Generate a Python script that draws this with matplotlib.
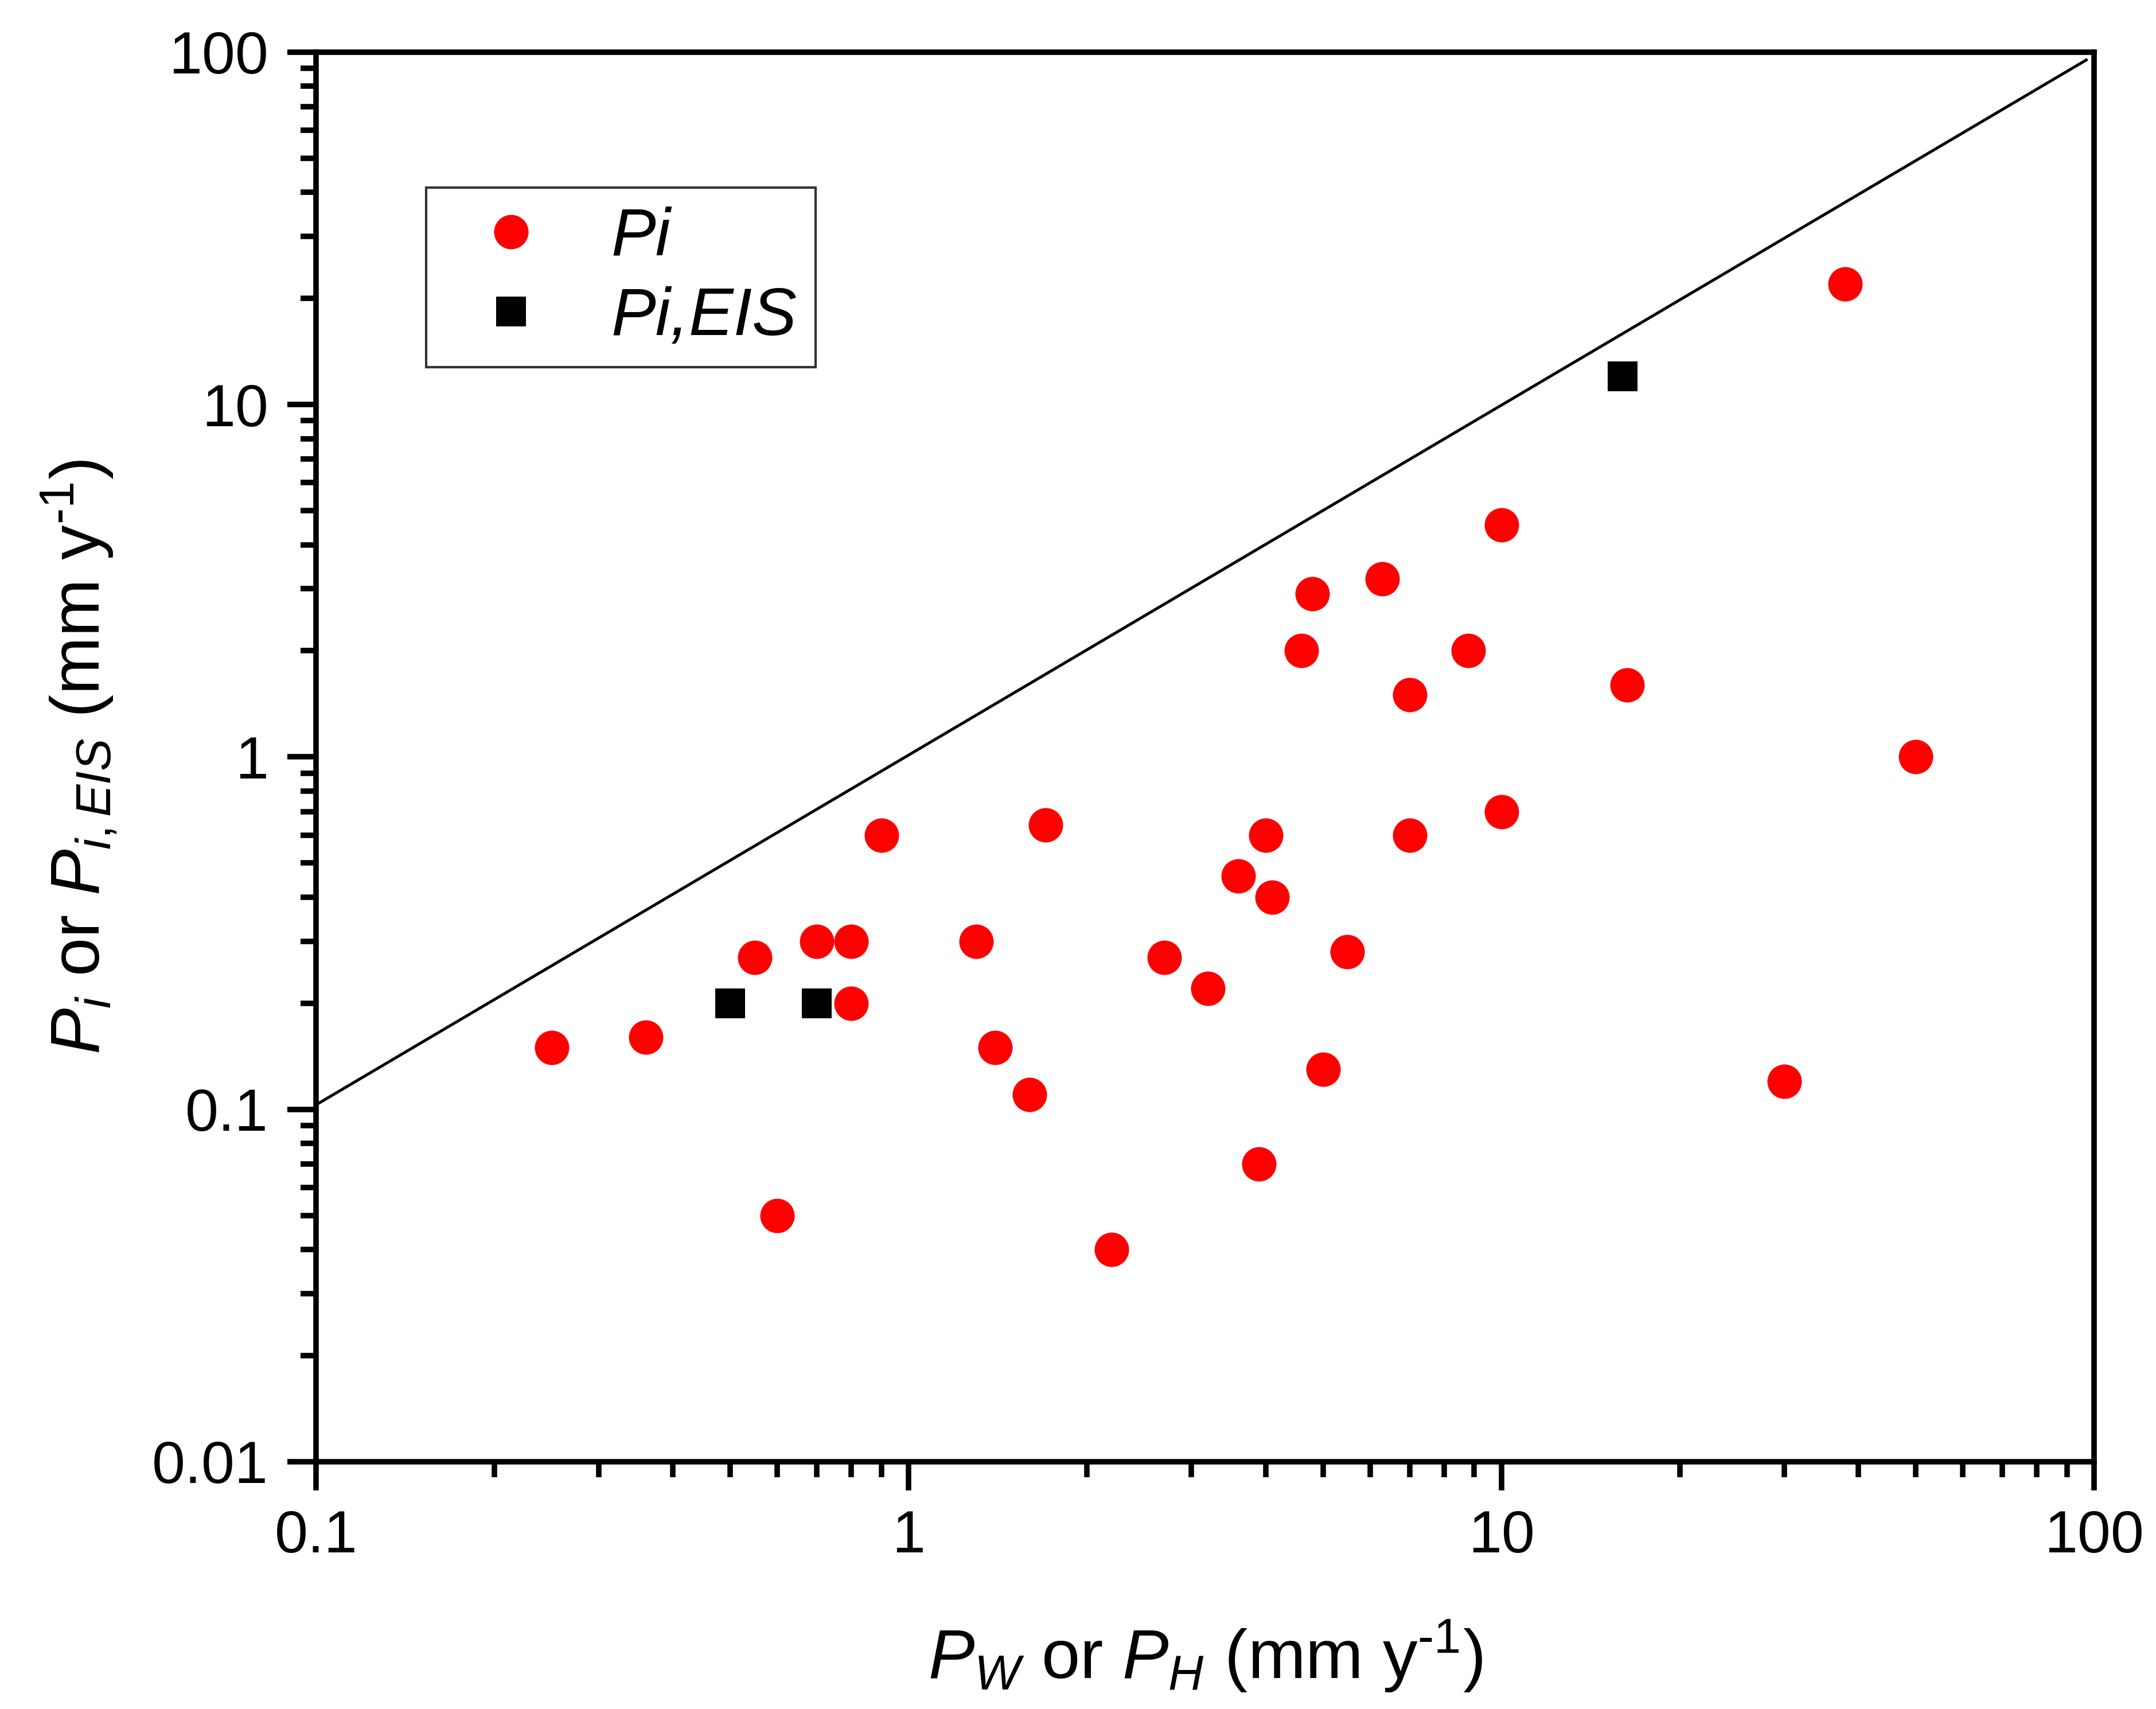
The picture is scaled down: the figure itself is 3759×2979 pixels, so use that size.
import numpy as np
import matplotlib
matplotlib.use("Agg")
import matplotlib.pyplot as plt

plt.rcParams['font.family'] = ['Liberation Sans', 'DejaVu Sans']
plt.rcParams['mathtext.fontset'] = 'custom'
plt.rcParams['mathtext.rm'] = 'Liberation Sans'
plt.rcParams['mathtext.it'] = 'Liberation Sans:italic'

# Pi values (red circles)
pi_x = [0.25, 0.36, 0.55, 0.6, 0.7, 0.8, 0.8, 0.9, 1.3, 1.4, 1.6, 1.7, 2.2, 2.7,
        3.2, 3.6, 3.9, 4.0, 4.1, 4.6, 4.8, 5.0, 5.5, 6.3, 7.0, 7.0, 8.8, 10, 10,
        16.3, 30, 38, 50]
pi_y = [0.15, 0.16, 0.27, 0.05, 0.3, 0.3, 0.2, 0.6, 0.3, 0.15, 0.11, 0.64, 0.04, 0.27,
        0.22, 0.46, 0.07, 0.6, 0.4, 2.0, 2.9, 0.13, 0.28, 3.2, 1.5, 0.6, 2.0, 4.55, 0.7,
        1.6, 0.12, 22, 1.0]

# Pi,EIS values (black squares)
eis_x = [0.5, 0.7, 16]
eis_y = [0.2, 0.2, 12]

# 1:1 reference line
line_x = [0.1, 97]
line_y = [0.103, 95]

fig = plt.figure(figsize=(3759 / 300, 2979 / 300), dpi=300)
ax = fig.add_axes([0.1466, 0.1447, 0.8247, 0.8248])

ax.plot(line_x, line_y, color='black', lw=1.2, zorder=1)
ax.plot(pi_x, pi_y, 'o', color='red', ms=14.4, mec='none', label='Pi', zorder=3)
ax.plot(eis_x, eis_y, 's', color='black', ms=12.5, mec='none', label='Pi,EIS', zorder=3)

ax.set_xscale('log')
ax.set_yscale('log')
ax.set_xlim(0.1, 100)
ax.set_ylim(0.01, 100)
ax.set_xticks([0.1, 1, 10, 100])
ax.set_xticklabels(['0.1', '1', '10', '100'])
ax.set_yticks([0.01, 0.1, 1, 10, 100])
ax.set_yticklabels(['0.01', '0.1', '1', '10', '100'])

for s in ax.spines.values():
    s.set_linewidth(2.3)
ax.tick_params(which='major', direction='out', length=12, width=2.3, labelsize=25, pad=8,
               top=False, right=False)
ax.tick_params(which='minor', direction='out', length=6.5, width=2.3, top=False, right=False)

ax.set_xlabel(r'$P_W$ or $P_H$ (mm y$^{\text{-}1}$)', fontsize=29, labelpad=22)
ax.set_ylabel(r'$P_i$ or $P_{i,EIS}$ (mm y$^{\text{-}1}$)', fontsize=29, labelpad=14)

leg = ax.legend(loc='upper left', bbox_to_anchor=(0.062, 0.904), borderaxespad=0,
                prop={'size': 28, 'style': 'italic'}, frameon=True, fancybox=False,
                edgecolor='black', handletextpad=0.5, borderpad=0.28, labelspacing=0.26,
                handlelength=1.98, numpoints=1)
leg.get_frame().set_linewidth(1.0)

fig.savefig('out.png', dpi=300)
